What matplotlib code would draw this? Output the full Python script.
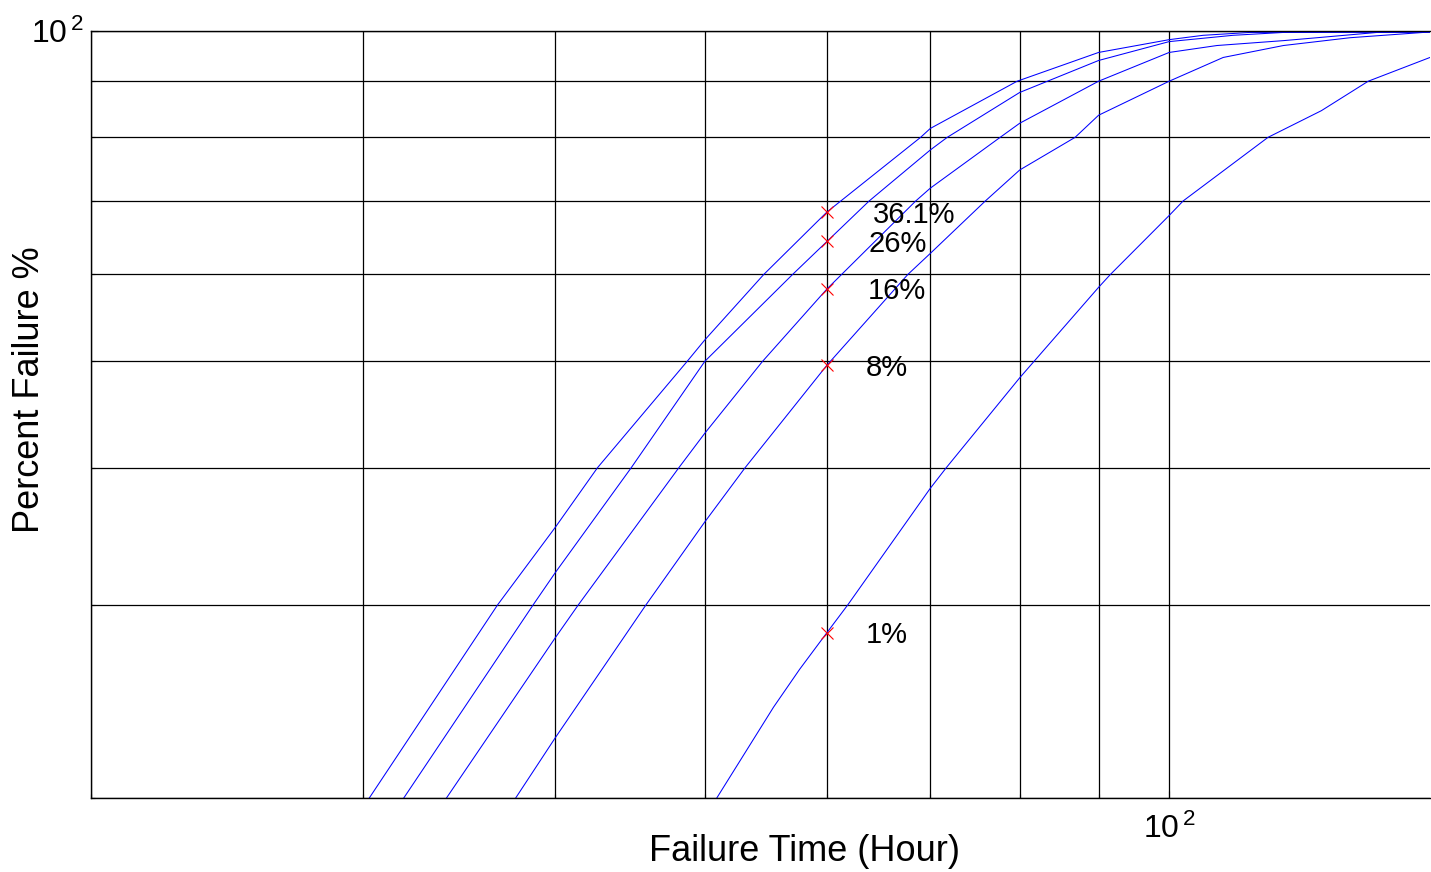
import matplotlib
matplotlib.use("Agg")
import matplotlib.pyplot as plt
from matplotlib.ticker import LogLocator, NullFormatter, FixedLocator

plt.rcParams['font.family'] = ['Liberation Sans', 'DejaVu Sans']
plt.rcParams['mathtext.fontset'] = 'custom'
plt.rcParams['mathtext.rm'] = 'Liberation Sans'

# curves (failure time in hours, percent failure)
time_a = [30.3, 36.7, 40.0, 42.6, 48.7, 50.0, 54.6, 60.0, 69.0, 70.0, 79.7, 90.0, 100.0, 105.2, 112.8, 147.6]
fail_a = [20.0, 30.0, 35.3, 40.0, 50.0, 52.3, 60.0, 68.4, 80.0, 81.5, 90.0, 95.6, 98.2, 99.1, 99.7, 99.8]

time_b = [31.9, 38.7, 40.0, 44.8, 50.0, 57.0, 60.0, 63.9, 70.0, 71.8, 80.0, 90.0, 100.0, 110.0, 118.6, 147.6]
fail_b = [20.0, 30.0, 32.1, 40.0, 50.0, 60.0, 64.3, 70.0, 77.9, 80.0, 87.9, 94.0, 97.8, 99.1, 99.7, 99.8]

time_c = [34.0, 40.0, 41.4, 48.1, 50.0, 54.5, 60.0, 68.5, 70.0, 77.7, 80.0, 90.0, 100.0, 107.4, 118.6, 124.7, 136.4, 147.6]
fail_c = [20.0, 28.0, 30.0, 40.0, 43.0, 50.0, 58.2, 70.0, 71.9, 80.0, 82.4, 90.0, 95.6, 97.0, 98.0, 98.6, 99.7, 99.8]

time_d = [37.7, 40.0, 45.8, 50.0, 53.1, 60.0, 67.7, 70.0, 76.0, 80.0, 86.9, 90.0, 100.0, 108.4, 118.6, 131.0, 147.6]
fail_d = [20.0, 22.7, 30.0, 35.7, 40.0, 49.6, 60.0, 62.7, 70.0, 74.7, 80.0, 83.8, 90.0, 94.6, 97.0, 98.6, 99.8]

time_e = [50.9, 55.4, 57.6, 60.0, 61.9, 70.0, 71.7, 80.0, 90.0, 91.6, 100.0, 102.1, 115.9, 125.5, 134.6, 147.6]
fail_e = [20.0, 24.2, 26.2, 28.3, 30.0, 38.3, 40.0, 48.3, 58.4, 60.0, 67.9, 70.0, 80.0, 84.6, 90.0, 94.6]

# marked points at t = 60 h
mark_t = 60.0
mark_fail = [68.4, 64.3, 58.2, 49.6, 28.3]
mark_labels = ['36.1%', '26%', '16%', '8%', '1%']
label_t = [64.3, 63.8, 63.8, 63.6, 63.6]
label_fail = [68.0, 64.0, 57.9, 49.3, 28.15]

fig = plt.figure(figsize=(14.31, 8.72), dpi=100)
ax = fig.add_axes([91/1431, 1 - 798/872, 1339/1431, 767/872])

for t, f in [(time_a, fail_a), (time_b, fail_b), (time_c, fail_c), (time_d, fail_d), (time_e, fail_e)]:
    ax.plot(t, f, color='blue', lw=0.75)

ax.plot([mark_t] * len(mark_fail), mark_fail, 'x', color='red', ms=8, mew=0.8, ls='none')
for lt, f, lab in zip(label_t, label_fail, mark_labels):
    ax.text(lt, f, lab, fontsize=21, va='center', ha='left')

ax.set_xscale('log')
ax.set_yscale('log')
ax.set_xlim(20, 147.6)
ax.set_ylim(20, 100)

ax.xaxis.set_major_locator(FixedLocator([100]))
ax.yaxis.set_major_locator(FixedLocator([100]))
ax.xaxis.set_minor_locator(LogLocator(base=10, subs=[2, 3, 4, 5, 6, 7, 8, 9]))
ax.yaxis.set_minor_locator(LogLocator(base=10, subs=[2, 3, 4, 5, 6, 7, 8, 9]))
ax.xaxis.set_minor_formatter(NullFormatter())
ax.yaxis.set_minor_formatter(NullFormatter())
ax.set_xticklabels([r'$\mathregular{10^{\,2}}$'])
ax.set_yticklabels([r'$\mathregular{10^{\,2}}$'])

ax.tick_params(which='both', direction='in', top=False, right=False, width=0.8)
ax.tick_params(which='major', length=5, labelsize=23)
ax.tick_params(which='minor', length=3)
ax.tick_params(axis='x', which='major', pad=11)
ax.tick_params(axis='y', which='major', pad=5)

ax.grid(True, which='both', color='black', lw=0.9)
ax.spines['right'].set_visible(False)
for s in ['left', 'bottom', 'top']:
    ax.spines[s].set_linewidth(1.0)

ax.set_xlabel('Failure Time (Hour)', fontsize=26)
ax.set_ylabel('Percent Failure %', fontsize=26)
ax.xaxis.set_label_coords(0.533, -0.0704)
ax.yaxis.set_label_coords(-0.0456, 0.532)
ax.xaxis.label.set_va('center')
ax.yaxis.label.set_va('center')

plt.savefig('out.png', dpi=100)
